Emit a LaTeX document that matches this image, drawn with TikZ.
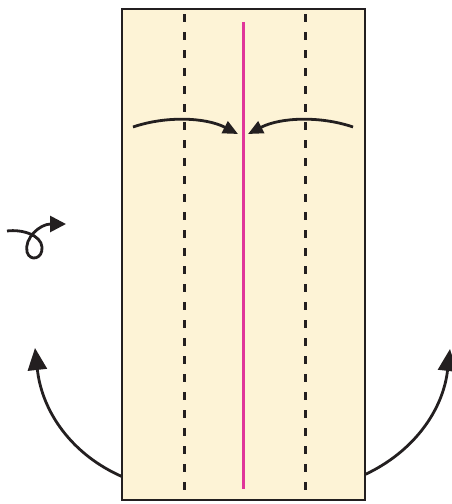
\documentclass[tikz,border=0pt]{standalone}
\usetikzlibrary{arrows.meta}
\definecolor{paper}{HTML}{FDF3D6}
\definecolor{ink}{HTML}{231F20}
\definecolor{crease}{HTML}{E0359A}
\tikzset{
  edge/.style={draw=ink, line width=2.6pt},
  fold/.style={ink, line width=3pt, dash pattern=on 8pt off 10pt},
  valley/.style={crease, line width=3pt},
  movearrow/.style={ink, line width=2.8pt, -{Triangle[length=15pt,width=13pt]}},
  bigarrow/.style={ink, line width=2.8pt, -{Triangle[length=22pt,width=19pt]}},
  looparrow/.style={ink, line width=2.8pt, -{Triangle[length=16pt,width=16pt]}},
}
\begin{document}
\begin{tikzpicture}[x=1pt,y=-1pt]
\useasboundingbox (0,0) rectangle (452,504);
% big turning arrows (behind the paper)
\coordinate (lstart) at (123,477);
\coordinate (ltip) at (35,348);
\coordinate (rstart) at (364,475);
\coordinate (rtip) at (450,349);
\draw[bigarrow] (lstart) .. controls (72,455) and (42,412) .. (ltip);
\draw[bigarrow] (rstart) .. controls (414,452) and (443,410) .. (rtip);
% paper
\path[fill=paper, edge] (122,9) rectangle (365,500);
\draw[fold] (184,14) -- (184,496);
\draw[fold] (305,14) -- (305,496);
\draw[valley] (243,22) -- (243,489);
% fold arrows
\coordinate (a1) at (133,127);
\coordinate (a1e) at (238,134);
\coordinate (a2) at (353,127);
\coordinate (a2e) at (248,134);
\draw[movearrow] (a1) .. controls (165,116) and (205,117) .. (a1e);
\draw[movearrow] (a2) .. controls (321,116) and (281,117) .. (a2e);
% turn-over symbol
\coordinate (t0) at (7,231);
\coordinate (t1) at (66,224);
\draw[looparrow] (t0) .. controls (22,229) and (41,235) .. (42,247)
  .. controls (43,259) and (30,262) .. (27,252)
  .. controls (24,238) and (40,224) .. (t1);
\end{tikzpicture}
\end{document}
